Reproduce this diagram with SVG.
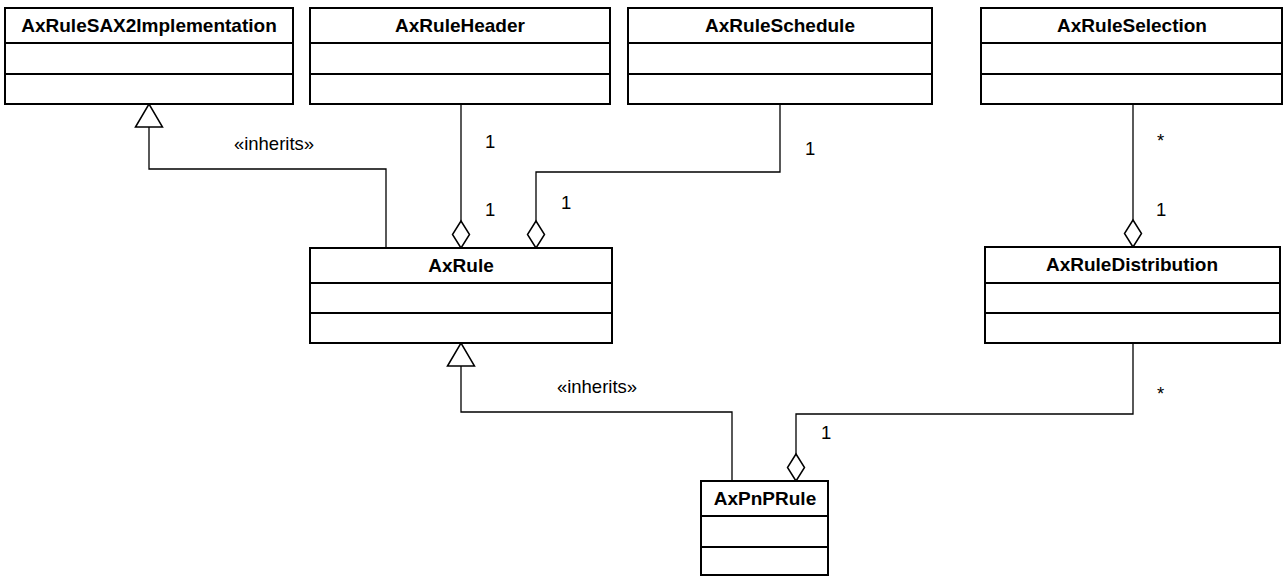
<svg xmlns="http://www.w3.org/2000/svg" width="1283" height="577" viewBox="0 0 1283 577">
<style>
.box{fill:#fff;stroke:#000;stroke-width:2}
.sep{stroke:#000;stroke-width:2}
.title{font-family:"Liberation Sans",Arial,sans-serif;font-weight:bold;font-size:19px;text-anchor:middle;fill:#000}
.lbl{font-family:"Liberation Sans",Arial,sans-serif;font-size:18.5px;fill:#000}
.conn{fill:none;stroke:#000;stroke-width:1.3}
</style>
<defs>
<marker id="diamond" markerUnits="userSpaceOnUse" markerWidth="30" markerHeight="20" refX="27" refY="9" orient="auto" overflow="visible">
<path d="M0,9 L13.5,0.5 L27,9 L13.5,17.5 Z" fill="#fff" stroke="#000" stroke-width="1.5"/>
</marker>
<marker id="tri" markerUnits="userSpaceOnUse" markerWidth="26" markerHeight="30" refX="23" refY="13.5" orient="auto" overflow="visible">
<path d="M0,0 L23,13.5 L0,27 Z" fill="#fff" stroke="#000" stroke-width="1.5"/>
</marker>
</defs>
<rect width="1283" height="577" fill="#fff"/>
<g id="connectors">
<path class="conn" d="M386,248 V169 H149 V104" marker-end="url(#tri)"/>
<path class="conn" d="M732,481 V412 H461 V343" marker-end="url(#tri)"/>
<path class="conn" d="M461,104 V248" marker-end="url(#diamond)"/>
<path class="conn" d="M780,104 V172 H536 V248" marker-end="url(#diamond)"/>
<path class="conn" d="M1133,104 V247" marker-end="url(#diamond)"/>
<path class="conn" d="M1133,343 V414 H796 V481" marker-end="url(#diamond)"/>
<text class="lbl" x="274" y="150" text-anchor="middle">«inherits»</text>
<text class="lbl" x="597" y="393" text-anchor="middle">«inherits»</text>
<text class="lbl" x="485" y="148">1</text>
<text class="lbl" x="485" y="216">1</text>
<text class="lbl" x="805" y="155">1</text>
<text class="lbl" x="561" y="209">1</text>
<text class="lbl" x="1157" y="147">*</text>
<text class="lbl" x="1156" y="216">1</text>
<text class="lbl" x="1157" y="400">*</text>
<text class="lbl" x="821" y="439">1</text>
</g>
<g id="AxRuleSAX2Implementation">
<rect class="box" x="5" y="8" width="288" height="96"/>
<line class="sep" x1="5" y1="43" x2="293" y2="43"/>
<line class="sep" x1="5" y1="74" x2="293" y2="74"/>
<text class="title" x="149" y="32">AxRuleSAX2Implementation</text>
</g>
<g id="AxRuleHeader">
<rect class="box" x="310" y="8" width="300" height="96"/>
<line class="sep" x1="310" y1="43" x2="610" y2="43"/>
<line class="sep" x1="310" y1="74" x2="610" y2="74"/>
<text class="title" x="460" y="32">AxRuleHeader</text>
</g>
<g id="AxRuleSchedule">
<rect class="box" x="628" y="8" width="304" height="96"/>
<line class="sep" x1="628" y1="43" x2="932" y2="43"/>
<line class="sep" x1="628" y1="74" x2="932" y2="74"/>
<text class="title" x="780" y="32">AxRuleSchedule</text>
</g>
<g id="AxRuleSelection">
<rect class="box" x="981" y="8" width="301" height="96"/>
<line class="sep" x1="981" y1="43" x2="1282" y2="43"/>
<line class="sep" x1="981" y1="74" x2="1282" y2="74"/>
<text class="title" x="1132" y="32">AxRuleSelection</text>
</g>
<g id="AxRule">
<rect class="box" x="310" y="248" width="302" height="95"/>
<line class="sep" x1="310" y1="283" x2="612" y2="283"/>
<line class="sep" x1="310" y1="313" x2="612" y2="313"/>
<text class="title" x="461" y="272">AxRule</text>
</g>
<g id="AxRuleDistribution">
<rect class="box" x="985" y="247" width="295" height="96"/>
<line class="sep" x1="985" y1="283" x2="1280" y2="283"/>
<line class="sep" x1="985" y1="313" x2="1280" y2="313"/>
<text class="title" x="1132" y="271">AxRuleDistribution</text>
</g>
<g id="AxPnPRule">
<rect class="box" x="701" y="481" width="127" height="94"/>
<line class="sep" x1="701" y1="516" x2="828" y2="516"/>
<line class="sep" x1="701" y1="547" x2="828" y2="547"/>
<text class="title" x="765" y="505">AxPnPRule</text>
</g>
</svg>
